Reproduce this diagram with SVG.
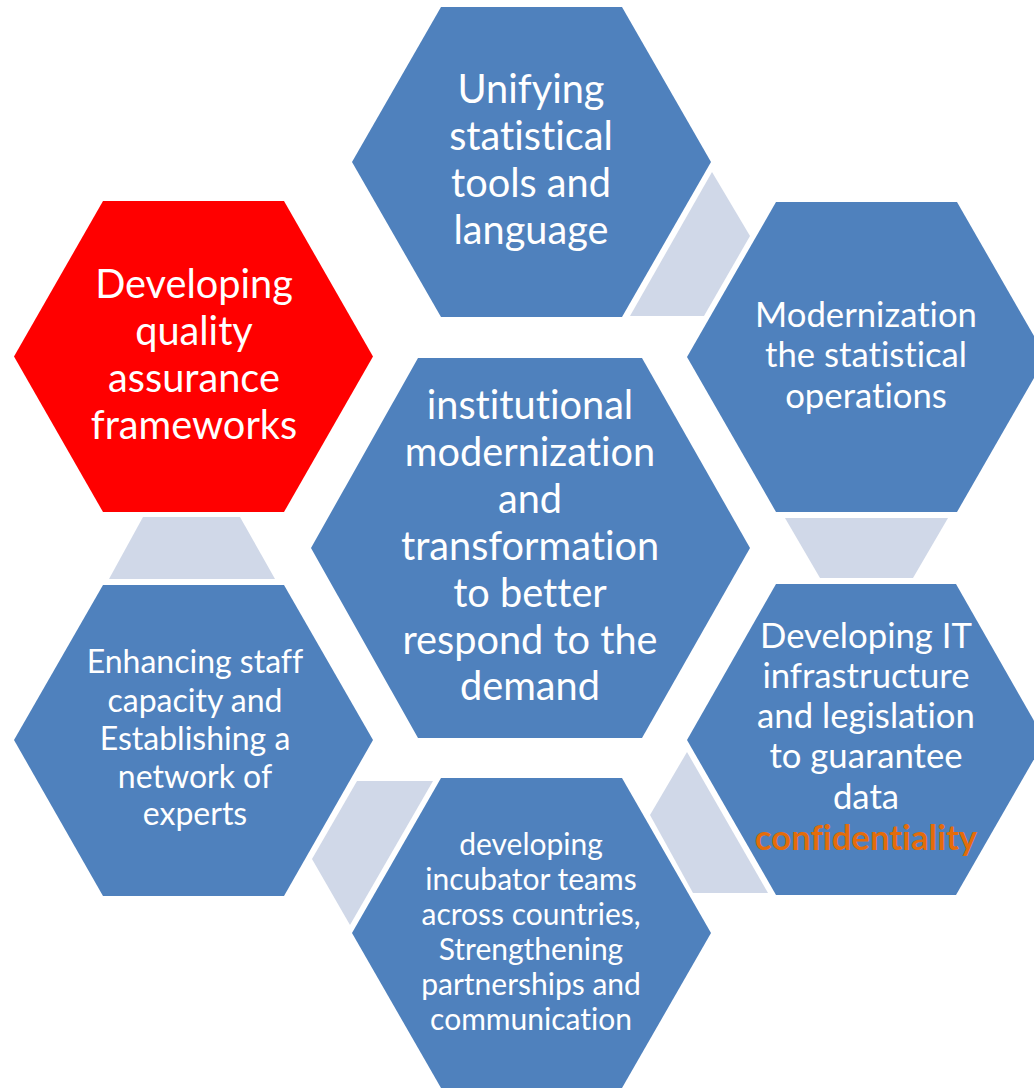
<svg xmlns="http://www.w3.org/2000/svg" width="1034" height="1088" viewBox="0 0 1034 1088">
<style>
.hex{fill:#4F81BD}
.red{fill:#FF0000}
.link{fill:#D0D8E8}
text{font-family:Lato,"Open Sans","Liberation Sans",sans-serif;fill:#FFFFFF;text-anchor:middle;font-variant-ligatures:none;font-feature-settings:"liga" 0}
.t41{font-size:39.7px}
.t36{font-size:34.7px}
.t34{font-size:32px}
.t31{font-size:30px}
.conf{fill:#E46C0A;font-weight:bold}
</style>
<rect width="1034" height="1088" fill="#FFFFFF"/>
<g id="connectors">
<polygon class="link" points="630,316 712,172 750,236 704,316"/>
<polygon class="link" points="785,518 948,518 913,578 820,578"/>
<polygon class="link" points="687,752 768,893 693,893 650,815"/>
<polygon class="link" points="357,781 433,781 350,925 312,859"/>
<polygon class="link" points="143,517 240,517 275,579 109,579"/>
</g>
<g id="node-unifying">
<polygon class="hex" points="352,162 441,7 622,7 711,162 622,317 441,317"/>
<text class="t41"><tspan x="531" y="103">Unifying</tspan><tspan x="531" y="150">statistical</tspan><tspan x="531" y="197">tools and</tspan><tspan x="531" y="244">language</tspan></text>
</g>
<g id="node-quality">
<polygon class="red" points="14,356.5 103,201 284,201 373,356.5 284,512 103,512"/>
<text class="t41"><tspan x="194" y="298">Developing</tspan><tspan x="194" y="345">quality</tspan><tspan x="194" y="392">assurance</tspan><tspan x="194" y="439">frameworks</tspan></text>
</g>
<g id="node-modernization">
<polygon class="hex" points="687,357 776,202 957,202 1046,357 957,512 776,512"/>
<text class="t36"><tspan x="866" y="327">Modernization</tspan><tspan x="866" y="367">the statistical</tspan><tspan x="866" y="408">operations</tspan></text>
</g>
<g id="node-center">
<polygon class="hex" points="311,548 418,358 642,358 750,548 642,738 418,738"/>
<text class="t41"><tspan x="530" y="419">institutional</tspan><tspan x="530" y="466">modernization</tspan><tspan x="530" y="513">and</tspan><tspan x="530" y="560">transformation</tspan><tspan x="530" y="607">to better</tspan><tspan x="530" y="654">respond to the</tspan><tspan x="530" y="700">demand</tspan></text>
</g>
<g id="node-staff">
<polygon class="hex" points="14,740 103,585 284,585 373,740 284,896 103,896"/>
<text class="t34"><tspan x="195" y="673">Enhancing staff</tspan><tspan x="195" y="712">capacity and</tspan><tspan x="195" y="750">Establishing a</tspan><tspan x="195" y="788">network of</tspan><tspan x="195" y="825">experts</tspan></text>
</g>
<g id="node-it">
<polygon class="hex" points="687,740 776,584 956,584 1045,740 956,895 776,895"/>
<text class="t36"><tspan x="866" y="648">Developing IT</tspan><tspan x="866" y="688">infrastructure</tspan><tspan x="866" y="728">and legislation</tspan><tspan x="866" y="768">to guarantee</tspan><tspan x="866" y="809">data</tspan><tspan x="866" y="850" class="conf">confidentiality</tspan></text>
</g>
<g id="node-incubator">
<polygon class="hex" points="352,933 441,778 622,778 711,933 622,1088 441,1088"/>
<text class="t31"><tspan x="531" y="855">developing</tspan><tspan x="531" y="890">incubator teams</tspan><tspan x="531" y="925">across countries,</tspan><tspan x="531" y="960">Strengthening</tspan><tspan x="531" y="995">partnerships and</tspan><tspan x="531" y="1030">communication</tspan></text>
</g>
</svg>
